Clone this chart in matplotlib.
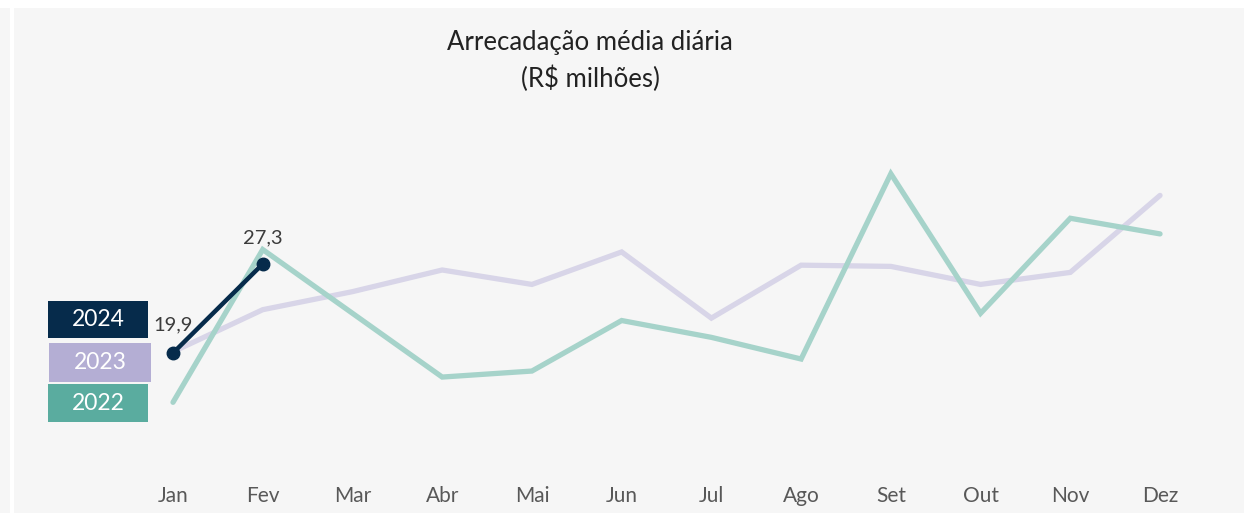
import matplotlib
matplotlib.use("Agg")
import matplotlib.pyplot as plt
from matplotlib.patches import Rectangle
import matplotlib.transforms as mtransforms

months = ["Jan", "Fev", "Mar", "Abr", "Mai", "Jun",
          "Jul", "Ago", "Set", "Out", "Nov", "Dez"]
values_2022 = [15.8, 28.5, 23.2, 17.9, 18.4, 22.6,
               21.2, 19.4, 34.8, 23.2, 31.1, 29.8]
values_2023 = [20.0, 23.5, 25.0, 26.8, 25.6, 28.3,
               22.8, 27.2, 27.1, 25.6, 26.6, 33.0]
values_2024 = [19.9, 27.3]
labels_2024 = ["19,9", "27,3"]
years = ["2024", "2023", "2022"]

W, H = 1244, 513


def main():
    plt.rcParams["font.family"] = ["Lato", "DejaVu Sans"]
    fig = plt.figure(figsize=(W / 100, H / 100), dpi=100, facecolor="white")

    # boxes given in pixels, top-left origin
    def px_rect(x0, y0, x1, y1, color, z):
        fig.patches.append(Rectangle((x0 / W, 1 - y1 / H), (x1 - x0) / W,
                                     (y1 - y0) / H, transform=fig.transFigure,
                                     facecolor=color, edgecolor="none",
                                     zorder=z))

    px_rect(0, 8, 10, H, "#f6f6f6", -2)
    px_rect(14, 8, W, H, "#f6f6f6", -2)

    ax = fig.add_axes([0, 0, 1, 1])
    ax.set_facecolor("none")
    ax.set_xlim(-173 / 89.73, (W - 173) / 89.73)
    ax.set_ylim(19.9 - (H - 353) / 12.03, 19.9 + 353 / 12.03)
    ax.axis("off")

    x = list(range(len(months)))
    ax.plot(x, values_2022, color="#a6d3ca", lw=3.8,
            solid_capstyle="round", solid_joinstyle="miter", zorder=2)
    ax.plot(x, values_2023, color="#d8d5e8", lw=3.8,
            solid_capstyle="round", solid_joinstyle="miter", zorder=1)
    ax.plot(x[:len(values_2024)], values_2024, color="#062b4b", lw=3.2,
            marker="o", markersize=9, zorder=3)

    ax.text(0, values_2024[0] + 1.6, labels_2024[0], ha="center",
            va="bottom", fontsize=14.5, color="#3c3c3c")
    ax.text(1, values_2024[1] + 1.5, labels_2024[1], ha="center",
            va="bottom", fontsize=14.5, color="#3c3c3c")

    trans = mtransforms.blended_transform_factory(ax.transData, fig.transFigure)
    for i, m in enumerate(months):
        ax.text(i, 1 - 496 / H, m, transform=trans, ha="center", va="center",
                fontsize=15, color="#585858")

    fig.text(590 / W, 1 - 61 / H, "Arrecadação média diária\n(R$ milhões)",
             ha="center", va="center", fontsize=18.5, color="#222222",
             linespacing=1.45)

    # year boxes
    boxes = [(48, 301, 148, 338, "#062b4b"),
             (49, 343, 151, 382, "#b4aed4"),
             (48, 384, 148, 422, "#5aac9f")]
    for label, (x0, y0, x1, y1, c) in zip(years, boxes):
        px_rect(x0, y0, x1, y1, c, 5)
        fig.text((x0 + x1) / 2 / W, 1 - (y0 + y1) / 2 / H, label,
                 ha="center", va="center", fontsize=16.5, color="white",
                 zorder=6)

    fig.savefig("out.png", dpi=100, facecolor="white")


if __name__ == "__main__":
    main()
